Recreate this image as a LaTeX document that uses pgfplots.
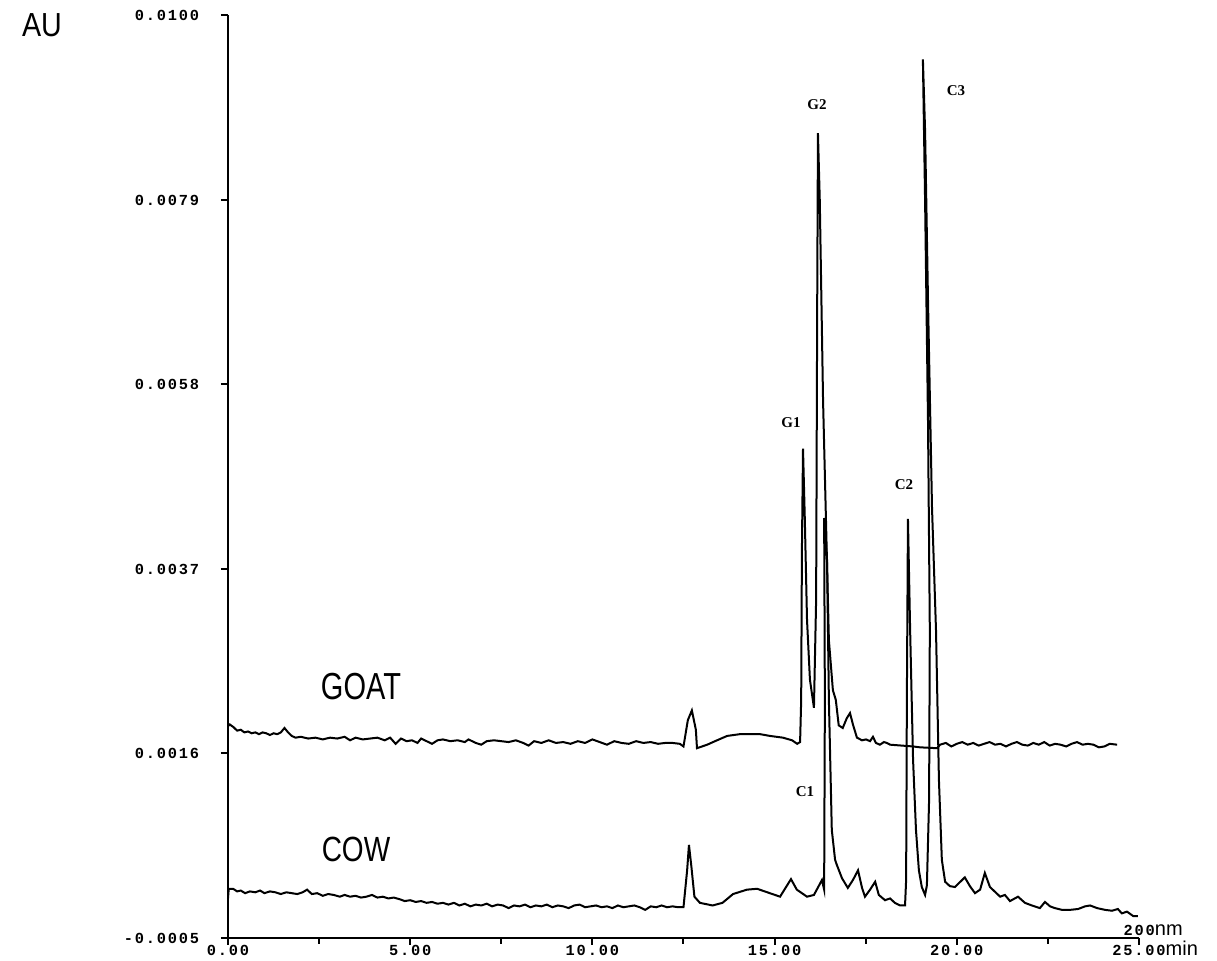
\documentclass[border=0pt]{standalone}
\usepackage{fontspec}
\setmainfont{Liberation Serif}
\setsansfont{Liberation Sans}
\setmonofont{Liberation Mono}
\newfontfamily\tickfont[LetterSpace=12]{Liberation Mono}
\usepackage{graphicx}
\usepackage{pgfplots}
\pgfplotsset{compat=1.18}

% chromatogram traces (min, AU)
\pgfplotstableread{
x y
0.00 0.00191
0.05 0.00193
0.15 0.00190
0.25 0.00186
0.35 0.00187
0.45 0.00184
0.55 0.00185
0.65 0.00183
0.75 0.00184
0.85 0.00182
0.95 0.00184
1.05 0.00183
1.15 0.00181
1.25 0.00183
1.35 0.00182
1.45 0.00184
1.55 0.00189
1.65 0.00184
1.75 0.00180
1.85 0.00178
2.00 0.00179
2.20 0.00177
2.40 0.00178
2.60 0.00176
2.80 0.00178
3.00 0.00177
3.20 0.00179
3.35 0.00175
3.50 0.00178
3.70 0.00176
3.90 0.00177
4.10 0.00178
4.30 0.00175
4.45 0.00178
4.60 0.00171
4.75 0.00177
4.90 0.00174
5.05 0.00175
5.20 0.00172
5.30 0.00177
5.45 0.00174
5.60 0.00171
5.75 0.00175
5.90 0.00176
6.10 0.00174
6.30 0.00175
6.50 0.00173
6.60 0.00176
6.80 0.00172
6.95 0.00170
7.10 0.00174
7.30 0.00175
7.50 0.00174
7.70 0.00173
7.90 0.00175
8.10 0.00172
8.25 0.00169
8.40 0.00174
8.60 0.00172
8.80 0.00175
9.00 0.00172
9.20 0.00173
9.40 0.00171
9.60 0.00174
9.80 0.00172
10.00 0.00176
10.20 0.00173
10.40 0.00170
10.60 0.00174
10.80 0.00172
11.00 0.00171
11.20 0.00174
11.40 0.00172
11.60 0.00173
11.80 0.00171
12.00 0.00172
12.20 0.00172
12.40 0.00171
12.50 0.00168
12.62 0.00198
12.73 0.00209
12.84 0.00187
12.87 0.00166
13.15 0.00170
13.42 0.00175
13.70 0.00180
14.05 0.00182
14.60 0.00182
14.87 0.00180
15.23 0.00178
15.48 0.00175
15.62 0.00171
15.70 0.00173
15.73 0.00221
15.75 0.00391
15.78 0.00507
15.83 0.00426
15.89 0.00312
15.97 0.00244
16.08 0.00212
16.14 0.00335
16.17 0.00676
16.19 0.00866
16.24 0.00790
16.33 0.00562
16.41 0.00426
16.49 0.00289
16.60 0.00232
16.68 0.00221
16.76 0.00192
16.87 0.00189
16.98 0.00200
17.07 0.00206
17.15 0.00193
17.26 0.00178
17.40 0.00175
17.51 0.00176
17.62 0.00174
17.70 0.00179
17.78 0.00172
17.89 0.00170
18.00 0.00173
18.08 0.00172
18.17 0.00170
18.80 0.00168
18.99 0.00167
19.46 0.00166
19.54 0.00170
19.70 0.00172
19.85 0.00168
20.00 0.00171
20.15 0.00173
20.30 0.00170
20.45 0.00172
20.60 0.00169
20.75 0.00171
20.90 0.00173
21.05 0.00170
21.20 0.00171
21.35 0.00168
21.50 0.00171
21.65 0.00173
21.80 0.00170
21.95 0.00169
22.10 0.00172
22.25 0.00170
22.40 0.00173
22.55 0.00169
22.70 0.00171
22.85 0.00170
23.00 0.00168
23.15 0.00171
23.30 0.00173
23.45 0.00170
23.60 0.00171
23.75 0.00170
23.90 0.00167
24.05 0.00168
24.20 0.00171
24.40 0.00170
}\goat

\pgfplotstableread{
x y
0.00 -0.00005
0.02 0.00006
0.14 0.00006
0.25 0.00003
0.35 0.00004
0.47 0.00001
0.60 0.00003
0.75 0.00002
0.88 0.00004
1.00 0.00001
1.15 0.00003
1.30 0.00002
1.45 0.00000
1.60 0.00002
1.75 0.00001
1.90 0.00000
2.05 0.00002
2.17 0.00005
2.30 0.00000
2.45 0.00001
2.60 -0.00002
2.75 0.00000
2.90 -0.00001
3.07 -0.00003
3.20 -0.00001
3.35 -0.00003
3.50 -0.00002
3.65 -0.00004
3.80 -0.00003
3.95 -0.00001
4.10 -0.00004
4.25 -0.00003
4.40 -0.00005
4.55 -0.00004
4.72 -0.00006
4.85 -0.00008
5.00 -0.00007
5.15 -0.00009
5.30 -0.00008
5.45 -0.00010
5.60 -0.00009
5.75 -0.00011
5.90 -0.00010
6.05 -0.00012
6.20 -0.00010
6.35 -0.00013
6.50 -0.00011
6.65 -0.00014
6.80 -0.00012
6.95 -0.00013
7.10 -0.00011
7.25 -0.00014
7.40 -0.00012
7.55 -0.00013
7.70 -0.00016
7.85 -0.00013
8.00 -0.00014
8.15 -0.00012
8.30 -0.00015
8.45 -0.00013
8.60 -0.00014
8.75 -0.00012
8.90 -0.00015
9.05 -0.00013
9.20 -0.00014
9.35 -0.00016
9.50 -0.00013
9.65 -0.00012
9.80 -0.00015
9.95 -0.00014
10.10 -0.00013
10.25 -0.00015
10.40 -0.00014
10.55 -0.00016
10.70 -0.00013
10.85 -0.00015
11.00 -0.00014
11.15 -0.00013
11.30 -0.00015
11.45 -0.00018
11.60 -0.00014
11.75 -0.00015
11.90 -0.00013
12.05 -0.00015
12.20 -0.00014
12.35 -0.00015
12.50 -0.00015
12.60 0.00027
12.65 0.00056
12.72 0.00030
12.80 -0.00003
12.95 -0.00010
13.30 -0.00013
13.57 -0.00010
13.86 0.00000
14.24 0.00005
14.52 0.00006
14.80 0.00002
15.15 -0.00003
15.45 0.00017
15.61 0.00005
15.89 -0.00003
16.08 -0.00001
16.30 0.00016
16.36 0.00005
16.38 0.00221
16.36 0.00428
16.44 0.00380
16.49 0.00221
16.57 0.00073
16.66 0.00039
16.71 0.00033
16.85 0.00018
17.01 0.00007
17.15 0.00016
17.29 0.00027
17.40 0.00007
17.48 -0.00003
17.62 0.00005
17.76 0.00014
17.86 -0.00001
18.03 -0.00007
18.17 -0.00005
18.30 -0.00010
18.44 -0.00013
18.58 -0.00013
18.61 0.00016
18.63 0.00221
18.66 0.00427
18.72 0.00300
18.80 0.00153
18.88 0.00073
18.96 0.00027
19.04 0.00008
19.13 -0.00001
19.18 0.00010
19.24 0.00107
19.26 0.00300
19.21 0.00539
19.13 0.00790
19.07 0.00950
19.13 0.00869
19.21 0.00676
19.32 0.00440
19.43 0.00300
19.51 0.00130
19.59 0.00039
19.68 0.00014
19.81 0.00009
19.95 0.00008
20.22 0.00019
20.36 0.00009
20.50 0.00001
20.64 0.00005
20.77 0.00024
20.91 0.00008
21.19 -0.00003
21.32 -0.00001
21.46 -0.00008
21.68 -0.00003
21.87 -0.00010
22.06 -0.00013
22.28 -0.00016
22.42 -0.00009
22.56 -0.00014
22.69 -0.00016
22.89 -0.00018
23.11 -0.00018
23.33 -0.00017
23.52 -0.00014
23.66 -0.00013
23.85 -0.00016
24.07 -0.00018
24.26 -0.00019
24.42 -0.00017
24.53 -0.00022
24.67 -0.00020
24.84 -0.00025
24.97 -0.00025
}\cow

\begin{document}
\begin{tikzpicture}
\useasboundingbox (-68.4pt,-6.9pt) rectangle (296.7pt,281.4pt);
\begin{axis}[
  at={(0,0)}, anchor=south west,
  scale only axis, width=273.3pt, height=276.75pt,
  xmin=0, xmax=25, ymin=-0.0005, ymax=0.0100,
  axis x line=bottom, axis y line=left,
  axis line style={-, line width=0.6pt},
  xtick={0,5,10,15,20,25},
  minor xtick={2.5,7.5,12.5,17.5,22.5},
  xticklabels={0.00,5.00,10.00,15.00,20.00,{25.00\rlap{\smash{\sffamily\mdseries\fontsize{6}{6}\selectfont min}}}},
  ytick={-0.0005,0.0016,0.0037,0.0058,0.0079,0.0100},
  yticklabels={-0.0005,0.0016,0.0037,0.0058,0.0079,0.0100},
  scaled y ticks=false,
  tick align=outside, major tick length=2.1pt, minor tick length=1.8pt,
  tick style={line width=0.6pt, black},
  tick label style={font=\tickfont\bfseries\fontsize{4.6}{5}\selectfont},
  xticklabel style={yshift=3.6pt},
  yticklabel style={xshift=-3pt},
  clip=false,
]
\addplot[black, line width=0.6pt] table {\goat};
\addplot[black, line width=0.6pt] table {\cow};
\end{axis}
\node[font=\sffamily\fontsize{10}{10}\selectfont] at (-55.8pt,273.9pt) {\scalebox{0.86}[1]{AU}};
\node[font=\sffamily\fontsize{11.3}{12}\selectfont] at (39.9pt,75.45pt) {\scalebox{0.77}[1]{GOAT}};
\node[font=\sffamily\fontsize{10.5}{12}\selectfont] at (38.4pt,26.55pt) {\scalebox{0.8}[1]{COW}};
\begin{scope}[every node/.style={font=\rmfamily\bfseries\fontsize{4.5}{5}\selectfont}]
\node at (168.9pt,154.5pt) {G1};
\node at (176.7pt,249.9pt) {G2};
\node at (173.1pt,43.8pt) {C1};
\node at (202.8pt,135.9pt) {C2};
\node at (218.4pt,254.1pt) {C3};
\end{scope}
\node[anchor=south west, inner sep=0pt] at (268.5pt,0.6pt)
  {{\tickfont\bfseries\fontsize{4.6}{5}\selectfont 200}{\sffamily\fontsize{6}{6}\selectfont nm}};
\end{tikzpicture}
\end{document}
